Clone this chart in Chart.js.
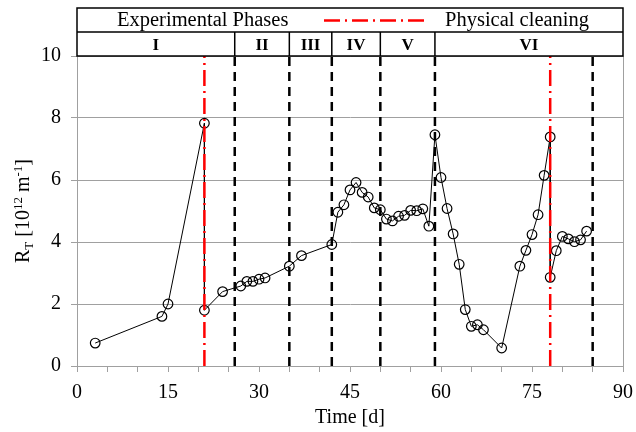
<!DOCTYPE html>
<html>
<head>
<meta charset="utf-8">
<script src="https://cdn.jsdelivr.net/npm/chart.js@4.4.1/dist/chart.umd.min.js"></script>
<style>
  html, body { margin: 0; padding: 0; background: #fff; }
</style>
</head>
<body>
<canvas id="chart" width="636" height="432"></canvas>
<script>
// time [d] and total resistance R_T [10^12 m^-1]
const days = [3, 14, 15, 21, 21, 24, 27, 28, 29, 30, 31, 35, 37, 42, 43, 44, 45, 46, 47, 48,
  49, 50, 51, 52, 53, 54, 55, 56, 57, 58, 59, 60, 61, 62, 63, 64, 65, 66, 67, 70,
  73, 74, 75, 76, 77, 78, 78, 79, 80, 81, 82, 83, 84];
const resistance = [0.74, 1.60, 2.00, 7.83, 1.80, 2.40, 2.58, 2.73, 2.73, 2.80, 2.84, 3.22, 3.56, 3.92, 4.96, 5.20, 5.68, 5.92, 5.60, 5.45,
  5.10, 5.04, 4.74, 4.68, 4.83, 4.86, 5.02, 5.01, 5.07, 4.51, 7.46, 6.08, 5.08, 4.26, 3.28, 1.82, 1.28, 1.33, 1.17, 0.58,
  3.22, 3.73, 4.24, 4.88, 6.15, 7.39, 2.86, 3.72, 4.18, 4.10, 4.01, 4.07, 4.35];

const phaseLines = [26, 35, 42, 50, 59, 85];
const cleaningDays = [21, 78];
const phaseNames = ['I', 'II', 'III', 'IV', 'V', 'VI'];
const phaseEdges = [0, 26, 35, 42, 50, 59, 90];

const SERIF = "'Liberation Serif', 'DejaVu Serif', serif";
const AXIS_GRAY = '#a0a0a0';
const CLEAN_DASH = [16, 5, 2, 5];

const points = days.map((d, i) => ({ x: d, y: resistance[i] }));

function vline(x, color, dash) {
    return {
        data: [{ x: x, y: 0 }, { x: x, y: 10 }],
        showLine: true,
        borderColor: color,
        borderWidth: 2.5,
        borderDash: dash,
        pointRadius: 0
    };
}

// first dataset is drawn last (on top)
const datasets = [];
cleaningDays.forEach(x => datasets.push(vline(x, '#ff0000', CLEAN_DASH)));
datasets.push({
    data: points,
    showLine: true,
    borderColor: '#000',
    borderWidth: 1,
    pointRadius: 4.8,
    pointBorderWidth: 1.2,
    pointBackgroundColor: 'rgba(0,0,0,0)',
    pointBorderColor: '#000'
});
phaseLines.forEach(x => datasets.push(vline(x, '#000', [9, 6])));

// header box with legend row and phase row, plus y-axis title
const headerPlugin = {
    id: 'header',
    afterDraw(chart) {
        const ctx = chart.ctx;
        const area = chart.chartArea;
        const xs = chart.scales.x;
        const top = 8, mid = 32, bot = area.top;
        ctx.save();

        // right border of plot
        ctx.strokeStyle = AXIS_GRAY;
        ctx.lineWidth = 1;
        ctx.beginPath();
        ctx.moveTo(area.right + 0.5, area.top);
        ctx.lineTo(area.right + 0.5, area.bottom);
        ctx.stroke();

        ctx.strokeStyle = '#000';
        ctx.lineWidth = 1.5;
        ctx.strokeRect(area.left, top, area.right - area.left, bot - top);
        ctx.beginPath();
        ctx.moveTo(area.left, mid);
        ctx.lineTo(area.right, mid);
        for (let i = 1; i < phaseEdges.length - 1; i++) {
            const px = xs.getPixelForValue(phaseEdges[i]);
            ctx.moveTo(px, mid);
            ctx.lineTo(px, bot);
        }
        ctx.stroke();

        ctx.fillStyle = '#000';
        ctx.textBaseline = 'alphabetic';
        ctx.textAlign = 'center';
        ctx.font = 'bold 17px ' + SERIF;
        for (let i = 0; i < phaseNames.length; i++) {
            const a = xs.getPixelForValue(phaseEdges[i]);
            const b = xs.getPixelForValue(phaseEdges[i + 1]);
            ctx.fillText(phaseNames[i], (a + b) / 2, 50);
        }

        ctx.font = '20.5px ' + SERIF;
        ctx.textAlign = 'left';
        ctx.fillText('Experimental Phases', 117, 26);
        ctx.fillText('Physical cleaning', 445, 26);
        ctx.strokeStyle = '#ff0000';
        ctx.lineWidth = 2.5;
        ctx.setLineDash(CLEAN_DASH);
        ctx.beginPath();
        ctx.moveTo(324, 20.5);
        ctx.lineTo(426, 20.5);
        ctx.stroke();
        ctx.setLineDash([]);

        // y-axis title: R_T [10^12 m^-1]
        const parts = [
            ['R', 20, 0], ['T', 13, 4], [' [10', 20, 0], ['12', 13, -7],
            [' m', 20, 0], ['-1', 13, -7], [']', 20, 0]
        ];
        let total = 0;
        parts.forEach(p => { ctx.font = p[1] + 'px ' + SERIF; total += ctx.measureText(p[0]).width; });
        ctx.translate(29, (area.top + area.bottom) / 2);
        ctx.rotate(-Math.PI / 2);
        let cx = -total / 2;
        ctx.fillStyle = '#000';
        parts.forEach(p => {
            ctx.font = p[1] + 'px ' + SERIF;
            ctx.fillText(p[0], cx, p[2]);
            cx += ctx.measureText(p[0]).width;
        });
        ctx.restore();
    }
};

new Chart(document.getElementById('chart'), {
    type: 'scatter',
    data: { datasets: datasets },
    options: {
        responsive: false,
        animation: false,
        devicePixelRatio: 1,
        layout: { padding: { top: 56, right: 13, left: 0, bottom: 0 } },
        plugins: {
            legend: { display: false },
            tooltip: { enabled: false }
        },
        scales: {
            x: {
                type: 'linear',
                min: 0,
                max: 90,
                afterFit(scale) {
                    scale.height = 66;
                    scale.paddingLeft = 0;
                    scale.paddingRight = 0;
                },
                border: { color: AXIS_GRAY },
                grid: { drawOnChartArea: false, tickLength: 6, color: AXIS_GRAY },
                ticks: {
                    stepSize: 5,
                    autoSkip: false,
                    maxRotation: 0,
                    padding: 9,
                    color: '#000',
                    font: { family: SERIF, size: 20 },
                    callback: v => (v % 15 === 0 ? v : '')
                },
                title: {
                    display: true,
                    text: 'Time [d]',
                    color: '#000',
                    font: { family: SERIF, size: 20 },
                    padding: { top: 0, bottom: 2 }
                }
            },
            y: {
                min: 0,
                max: 10,
                afterFit(scale) {
                    scale.width = 77;
                    scale.paddingTop = 0;
                    scale.paddingBottom = 0;
                },
                border: { color: AXIS_GRAY },
                grid: { color: AXIS_GRAY, tickLength: 6 },
                ticks: {
                    stepSize: 2,
                    padding: 10,
                    color: '#000',
                    font: { family: SERIF, size: 20 }
                }
            }
        }
    },
    plugins: [headerPlugin]
});
</script>
</body>
</html>
